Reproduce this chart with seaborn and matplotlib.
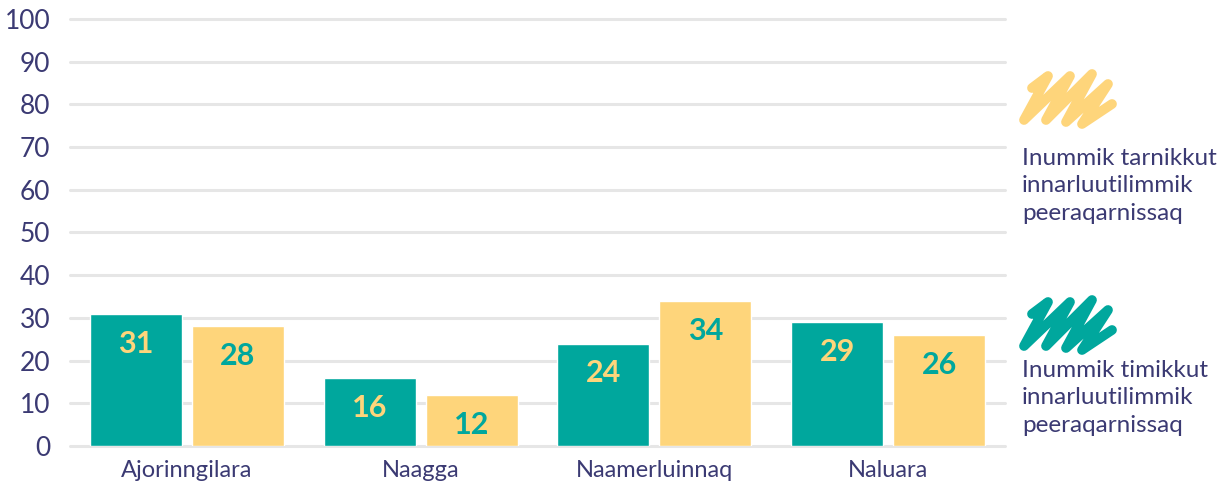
import matplotlib
matplotlib.use("Agg")
import matplotlib.pyplot as plt
import seaborn as sns
import pandas as pd
from matplotlib.lines import Line2D

# data
categories = ["Ajorinngilara", "Naagga", "Naamerluinnaq", "Naluara"]
series_names = ["Inummik timikkut\ninnarluutilimmik\npeeraqarnissaq",
                "Inummik tarnikkut\ninnarluutilimmik\npeeraqarnissaq"]
timikkut = [31, 16, 24, 29]
tarnikkut = [28, 12, 34, 26]
yticks = [0, 10, 20, 30, 40, 50, 60, 70, 80, 90, 100]

teal = "#00a79d"
yellow = "#fed57b"
text_col = "#3b3a73"
grid_col = "#e6e6e6"

df = pd.DataFrame({
    "cat": categories * 2,
    "series": [series_names[0]] * 4 + [series_names[1]] * 4,
    "value": timikkut + tarnikkut,
})

sns.set_theme(style="white")
plt.rcParams["font.family"] = ["Lato", "DejaVu Sans"]

fig = plt.figure(figsize=(12.31, 4.88), dpi=100)
ax = fig.add_axes([70 / 1231, 1 - 446 / 488, 935 / 1231, 427 / 488])

sns.barplot(data=df, x="cat", y="value", hue="series", order=categories,
            hue_order=series_names, palette=[teal, yellow], width=0.873, gap=0.098,
            saturation=1, legend=False, ax=ax, zorder=3)

ax.set_ylim(0, 100)
ax.set_xlim(-0.5, 3.5)
ax.set_yticks(yticks)
for y in yticks:
    ax.axhline(y, color=grid_col, lw=2.2, zorder=1, clip_on=False)
for s in ax.spines.values():
    s.set_visible(False)
ax.set_xlabel("")
ax.set_ylabel("")
ax.tick_params(axis="y", length=0, pad=14, labelsize=19, labelcolor=text_col)
ax.tick_params(axis="x", length=0, pad=10, labelsize=17, labelcolor=text_col)

# value labels inside bars
label_cols = [yellow, teal]
for cont, lc in zip(ax.containers, label_cols):
    for bar in cont:
        h = bar.get_height()
        ax.text(bar.get_x() + bar.get_width() / 2, h - 7, f"{h:.0f}",
                ha="center", va="center", fontsize=22, fontweight="bold",
                color=lc, zorder=4)

# legend: scribbles + text
def scribble(x0, y0, color):
    pts = [(14, 18), (30, 6), (6, 50), (52, 6), (28, 50), (74, 4), (48, 52),
           (90, 14), (64, 54), (94, 34)]
    xs = [(x0 + p[0]) / 1231 for p in pts]
    ys = [1 - (y0 + p[1]) / 488 for p in pts]
    fig.add_artist(Line2D(xs, ys, color=color, lw=7, solid_capstyle="round",
                          solid_joinstyle="round", transform=fig.transFigure))

scribble(1018, 70, yellow)
scribble(1018, 296, teal)
fig.text(1022 / 1231, 1 - 148 / 488, series_names[1], fontsize=17.5,
         color=text_col, va="top", ha="left", linespacing=1.38)
fig.text(1022 / 1231, 1 - 360 / 488, series_names[0], fontsize=17.5,
         color=text_col, va="top", ha="left", linespacing=1.38)

fig.savefig("out.png", dpi=100)
